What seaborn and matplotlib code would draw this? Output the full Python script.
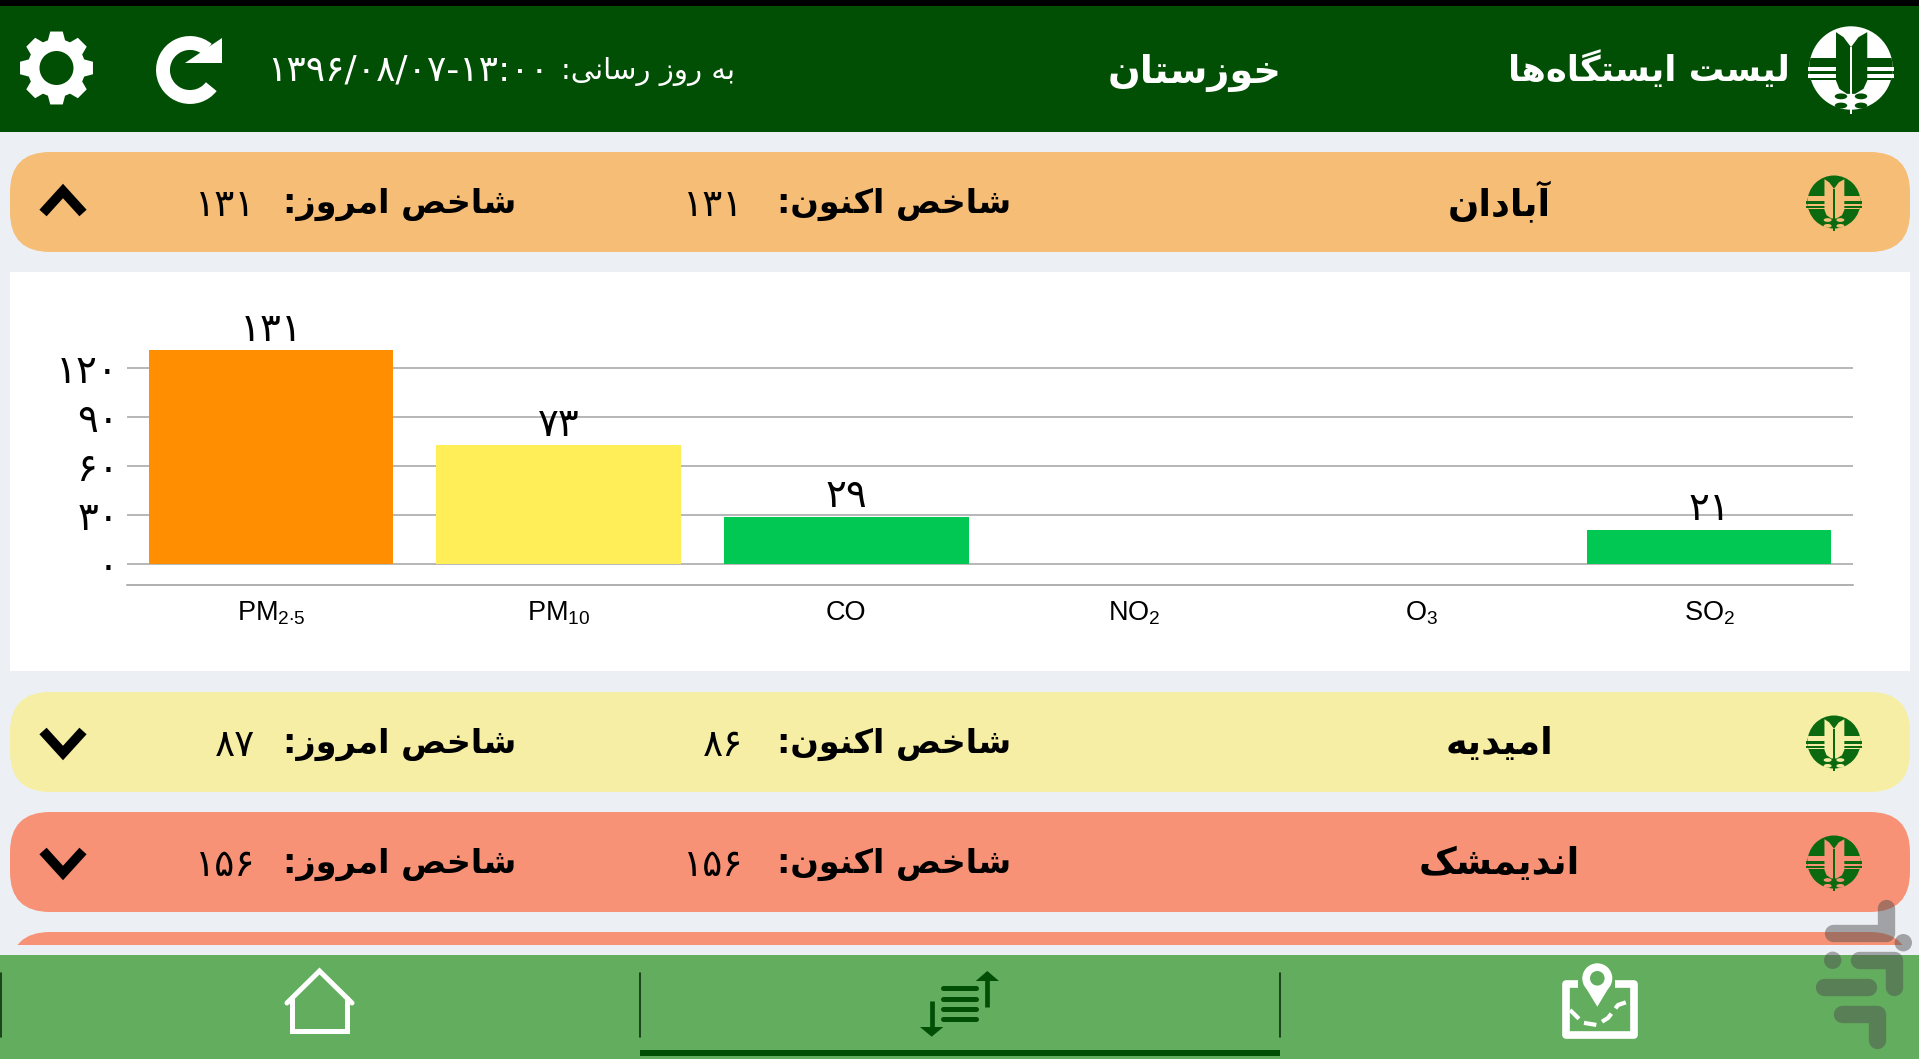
import numpy as np
import pandas as pd
import seaborn as sns
import matplotlib
matplotlib.use('Agg')
import matplotlib.pyplot as plt
from matplotlib.patches import FancyBboxPatch, Rectangle, Circle, Polygon, Arc, Ellipse

# Chart data
pollutants = [r'PM$_{2{\cdot}5}$', r'PM$_{10}$', 'CO', r'NO$_{2}$', r'O$_{3}$', r'SO$_{2}$']
aqi_values = [131, 73, 29, 0, 0, 21]
bar_colors = ['#FF8F00', '#FFEE58', '#00C853', '#00C853', '#00C853', '#00C853']
y_ticks = [0, 30, 60, 90, 120]

# Station cards
stations = ['آبادان', 'امیدیه', 'اندیمشک']
index_now = [131, 86, 156]
index_today = [131, 87, 156]
card_colors = ['#F5BD75', '#F6EEA4', '#F79276']
card_tops = [152, 692, 812]

title_left = 'لیست ایستگاه\u200cها'
title_mid = 'خوزستان'
update_label = 'به روز رسانی:'
update_time = '۱۳۹۶/۰۸/۰۷-۱۳:۰۰'
now_label = 'شاخص اکنون:'
today_label = 'شاخص امروز:'

DARK = '#014F05'
BAR = '#63AD5E'
BG = '#ECF0F5'

# matplotlib does no Arabic shaping, so map letters to presentation forms by hand
FORMS = {
    'ا': (0xFE8D, 0xFE8E, None, None), 'آ': (0xFE81, 0xFE82, None, None),
    'ب': (0xFE8F, 0xFE90, 0xFE91, 0xFE92), 'ت': (0xFE95, 0xFE96, 0xFE97, 0xFE98),
    'خ': (0xFEA5, 0xFEA6, 0xFEA7, 0xFEA8), 'د': (0xFEA9, 0xFEAA, None, None),
    'ر': (0xFEAD, 0xFEAE, None, None), 'ز': (0xFEAF, 0xFEB0, None, None),
    'س': (0xFEB1, 0xFEB2, 0xFEB3, 0xFEB4), 'ش': (0xFEB5, 0xFEB6, 0xFEB7, 0xFEB8),
    'ص': (0xFEB9, 0xFEBA, 0xFEBB, 0xFEBC), 'ک': (0xFB8E, 0xFB8F, 0xFB90, 0xFB91),
    'گ': (0xFB92, 0xFB93, 0xFB94, 0xFB95), 'ل': (0xFEDD, 0xFEDE, 0xFEDF, 0xFEE0),
    'م': (0xFEE1, 0xFEE2, 0xFEE3, 0xFEE4), 'ن': (0xFEE5, 0xFEE6, 0xFEE7, 0xFEE8),
    'و': (0xFEED, 0xFEEE, None, None), 'ه': (0xFEE9, 0xFEEA, 0xFEEB, 0xFEEC),
    'ی': (0xFBFC, 0xFBFD, 0xFBFE, 0xFBFF),
}


def fa(text):
    out = []
    for i, ch in enumerate(text):
        if ch not in FORMS:
            if ch != '\u200c':
                out.append(ch)
            continue
        prev = text[i - 1] if i > 0 else ''
        nxt = text[i + 1] if i + 1 < len(text) else ''
        joins_prev = prev in FORMS and FORMS[prev][2] is not None
        joins_next = nxt in FORMS and FORMS[ch][2] is not None
        if joins_prev and joins_next:
            out.append(chr(FORMS[ch][3]))
        elif joins_prev:
            out.append(chr(FORMS[ch][1]))
        elif joins_next:
            out.append(chr(FORMS[ch][2]))
        else:
            out.append(chr(FORMS[ch][0]))
    return ''.join(reversed(out))


def fa_num(n):
    return str(n).translate(str.maketrans('0123456789', '۰۱۲۳۴۵۶۷۸۹'))


def draw_logo(ax, cx, cy, r, disc, detail):
    disc_patch = Circle((cx, cy), r, fc=disc, ec='none')
    ax.add_patch(disc_patch)
    # band across the middle, then the two stripes on top of it
    band = Rectangle((cx - r, cy - 0.24 * r), 2 * r, 0.52 * r, fc=detail, ec='none')
    ax.add_patch(band)
    band.set_clip_path(Circle((cx, cy), r, transform=ax.transData))
    for v0, v1 in [(-0.02, 0.08), (0.136, 0.24)]:
        ax.add_patch(Rectangle((cx - 1.04 * r, cy + v0 * r), 2.08 * r, (v1 - v0) * r, fc=disc, ec='none'))
    tulip = [(-0.36, -0.86), (-0.18, -0.74), (0, -0.5), (0.18, -0.74), (0.39, -0.86), (0.39, 0.30),
             (0.3, 0.5), (0.1, 0.62), (-0.1, 0.62), (-0.28, 0.5), (-0.36, 0.30)]
    ax.add_patch(Polygon([(cx + u * r, cy + v * r) for u, v in tulip], fc=detail, ec='none'))
    ax.add_patch(Rectangle((cx - 0.035 * r, cy - 0.5 * r), 0.07 * r, 1.6 * r, fc=disc, ec='none'))
    for u in (-0.24, 0.24):
        for v in (0.68, 0.90):
            ax.add_patch(Ellipse((cx + u * r, cy + v * r), 0.3 * r, 0.14 * r, fc=detail, ec='none'))


def draw_gear(ax, cx, cy):
    angles = np.linspace(0, 2 * np.pi, 8, endpoint=False)
    pts = []
    for a in angles:
        for da, rad in [(-0.30, 29), (-0.17, 37), (0.17, 37), (0.30, 29)]:
            pts.append((cx + rad * np.cos(a + da), cy + rad * np.sin(a + da)))
    ax.add_patch(Polygon(pts, fc='white', ec='none'))
    ax.add_patch(Circle((cx, cy), 17, fc=DARK, ec='none'))


sns.set_theme(style='whitegrid')
plt.rcParams['font.family'] = ['DejaVu Sans']
plt.rcParams['mathtext.default'] = 'regular'

fig = plt.figure(figsize=(19.19, 10.59), dpi=100, facecolor=BG)

# Pixel canvas for the app screen round the chart
ui = fig.add_axes([0, 0, 1, 1])
ui.set_xlim(0, 1919)
ui.set_ylim(1059, 0)
ui.axis('off')

ui.add_patch(Rectangle((0, 0), 1919, 6, fc='black', ec='none'))
ui.add_patch(Rectangle((0, 6), 1919, 126, fc=DARK, ec='none'))
ui.add_patch(Rectangle((10, 272), 1900, 399, fc='white', ec='none'))

draw_gear(ui, 56.5, 68)
ui.add_patch(Arc((190, 70), 54, 54, theta1=38, theta2=310, color='white', lw=10))
ui.add_patch(Polygon([(222, 38), (222, 63), (185, 63)], fc='white', ec='none'))
ui.text(408, 70, update_time, color='white', fontsize=26, ha='center', va='center')
ui.text(735, 72, fa(update_label), color='white', fontsize=21, ha='right', va='center')
ui.text(1195, 73, fa(title_mid), color='white', fontsize=27.5, fontweight='bold', ha='center', va='center')
ui.text(1790, 69, fa(title_left), color='white', fontsize=25.5, fontweight='bold', ha='right', va='center')
draw_logo(ui, 1851, 68, 41.7, 'white', DARK)

for i, name in enumerate(stations):
    top = card_tops[i]
    mid = top + 50
    ui.add_patch(FancyBboxPatch((10, top), 1900, 100, boxstyle='round,pad=0,rounding_size=40',
                                fc=card_colors[i], ec='none'))
    draw_logo(ui, 1834, mid, 26.5, '#0B6A10', card_colors[i])
    ui.text(1499, mid + 1, fa(name), fontsize=26.5, fontweight='bold', color='black', ha='center', va='center')
    ui.text(1011, mid + 2, fa(now_label), fontsize=24, fontweight='bold', color='black', ha='right', va='center')
    ui.text(743, mid + 4, fa_num(index_now[i]), fontsize=27, color='black', ha='right', va='center')
    ui.text(516, mid + 2, fa(today_label), fontsize=24, fontweight='bold', color='black', ha='right', va='center')
    ui.text(255, mid + 4, fa_num(index_today[i]), fontsize=27, color='black', ha='right', va='center')
    # chevron
    tip, base = (mid - 11, mid + 11) if i == 0 else (mid + 11, mid - 11)
    ui.plot([43, 63, 83], [base, tip, base], color='black', lw=7, solid_joinstyle='miter', solid_capstyle='butt')

# Fourth card is cut off by the bottom bar
cut = FancyBboxPatch((10, 932), 1900, 100, boxstyle='round,pad=0,rounding_size=40', fc='#F79276', ec='none')
ui.add_patch(cut)
cut.set_clip_path(Rectangle((0, 932), 1919, 13, transform=ui.transData))

# Bottom navigation
ui.add_patch(Rectangle((0, 955), 1919, 104, fc=BAR, ec='none'))
for x in (0.5, 640, 1280):
    ui.plot([x, x], [973, 1037], color='#10300F', lw=1.2)
ui.add_patch(Rectangle((640, 1050), 640, 6, fc=DARK, ec='none'))

# home icon
ui.plot([292, 292, 347, 347], [998, 1031, 1031, 998], color='white', lw=3.6, solid_joinstyle='miter')
ui.plot([287, 319.5, 352], [1003, 971, 1003], color='white', lw=3.6, solid_joinstyle='miter')

# sort icon
for y in (988.3, 998.7, 1009, 1019.3):
    ui.plot([943, 976], [y, y], color=DARK, lw=3.6, solid_capstyle='round')
ui.plot([931.5, 931.5], [1001, 1028], color=DARK, lw=3.4, solid_capstyle='butt')
ui.add_patch(Polygon([(920, 1027), (943.3, 1027), (931.7, 1036.7)], fc=DARK, ec='none'))
ui.plot([987.3, 987.3], [1006.7, 980], color=DARK, lw=3.4, solid_capstyle='butt')
ui.add_patch(Polygon([(975.7, 981), (999, 981), (987.3, 971)], fc=DARK, ec='none'))

# map icon
ui.plot([1578, 1566, 1566, 1634, 1634, 1615], [984, 984, 1035, 1035, 984, 984], color='white', lw=5.5,
        solid_joinstyle='round', solid_capstyle='butt')
ui.add_patch(Circle((1597.3, 978.3), 15, fc='white', ec='none'))
ui.add_patch(Polygon([(1583.5, 984), (1611, 984), (1597.3, 1006.7)], fc='white', ec='none'))
ui.add_patch(Circle((1597.3, 978.3), 7.3, fc=BAR, ec='none'))
ui.plot([1570, 1583, 1596.7, 1608, 1618, 1630.7], [1010, 1022.7, 1025, 1018, 1005, 1000.7], color='white', lw=3,
        ls=(0, (3, 1.6)), solid_joinstyle='round')

# watermark
wm = dict(color='#4E4E4E', alpha=0.48, lw=12.5, solid_capstyle='round', solid_joinstyle='round')
ui.plot([1885.7, 1885.7, 1832.7], [907.7, 933.3, 933.3], **wm)
ui.plot([1859.3, 1894.3, 1894.3], [960.3, 960.3, 986.7], **wm)
ui.plot([1824, 1868.3], [987, 987], **wm)
ui.plot([1841.7, 1876.7, 1876.7], [1013.7, 1013.7, 1040], **wm)
ui.add_patch(Circle((1903.3, 942.7), 8.7, fc='#4E4E4E', alpha=0.48, ec='none'))
ui.add_patch(Circle((1832.7, 960.3), 8.7, fc='#4E4E4E', alpha=0.48, ec='none'))

# The bar chart proper
scale = 48.9 / 30
top_value = 150
bottom_value = -(585.3 - 564) / scale
ax = fig.add_axes([127.2 / 1919, 1 - 585.3 / 1059, (1853 - 127.2) / 1919,
                   (top_value - bottom_value) * scale / 1059])
ax.patch.set_alpha(0)

df = pd.DataFrame({'pollutant': pollutants, 'aqi': aqi_values})
sns.barplot(data=df, x='pollutant', y='aqi', hue='pollutant', palette=dict(zip(pollutants, bar_colors)),
            order=pollutants, width=0.85, saturation=1, legend=False, linewidth=0, edgecolor='none', ax=ax)
ax.set_xlim(-0.5, 5.5)
ax.set_ylim(bottom_value, top_value)
ax.set_xlabel('')
ax.set_ylabel('')
ax.set_yticks(y_ticks)
ax.set_yticklabels([fa_num(v) for v in y_ticks], fontsize=28, color='black')
ax.tick_params(axis='y', length=0, pad=6)
ax.tick_params(axis='x', length=0, pad=10.5)
for lab in ax.get_xticklabels():
    lab.set_fontfamily(['Liberation Sans'])
    lab.set_fontsize(19.5)
    lab.set_color('black')
ax.grid(False)
ax.yaxis.grid(True, color='#A3A3A3', lw=1.1)
ax.set_axisbelow(True)
sns.despine(ax=ax, left=True, top=True, right=True)
ax.spines['bottom'].set_color('#9A9A9A')
ax.spines['bottom'].set_linewidth(1.1)

for container, value in zip(ax.containers, aqi_values):
    if value > 0:
        ax.bar_label(container, labels=[fa_num(value)], fontsize=28, color='black', padding=1)

fig.savefig('out.png', dpi=100, facecolor=BG)
plt.close(fig)
